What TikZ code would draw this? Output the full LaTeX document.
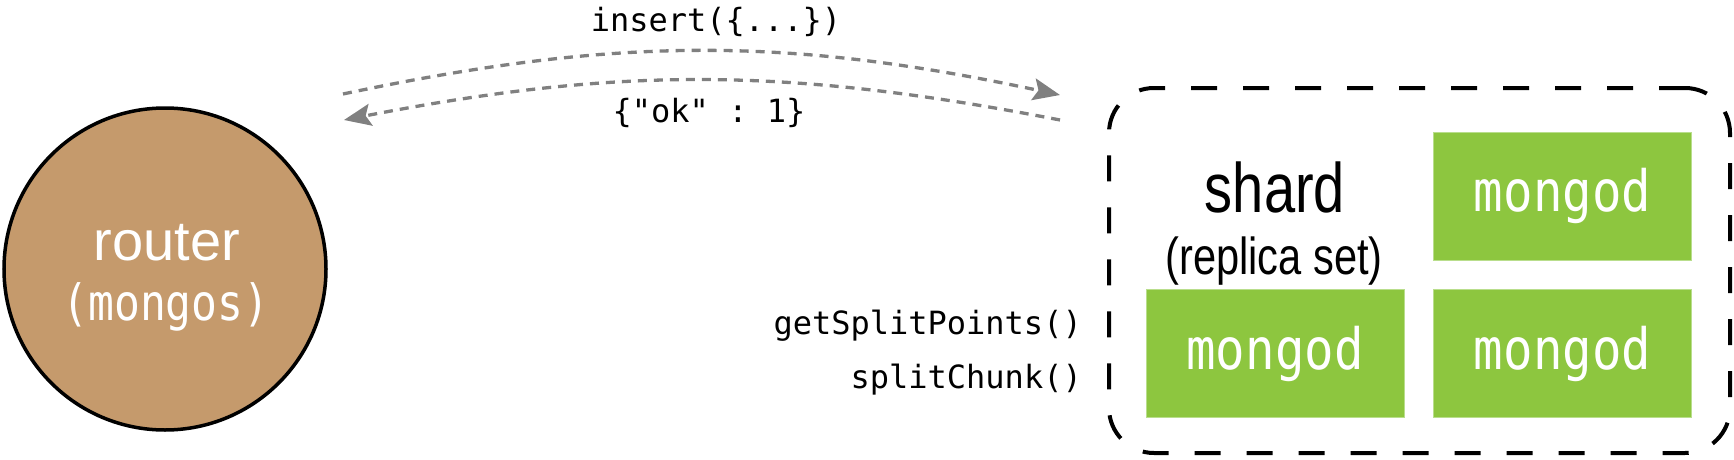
\documentclass[tikz,border=0pt]{standalone}
\usepackage{fontspec}
\setmainfont{Liberation Sans}
\setmonofont{DejaVu Sans Mono}
\newfontfamily\narrowsans[FakeStretch=0.8]{Liberation Sans}
\newfontfamily\narrowmono[FakeStretch=0.86]{DejaVu Sans Mono}
\usetikzlibrary{arrows.meta}

\definecolor{routerbrown}{RGB}{197,154,108}
\definecolor{mongodgreen}{RGB}{141,198,63}
\definecolor{mongodedge}{RGB}{185,222,140}
\definecolor{msggray}{RGB}{128,128,128}

\tikzset{
    router/.style={circle, draw=black, line width=3.5pt, fill=routerbrown, minimum size=322pt, inner sep=0pt},
    shardbox/.style={draw=black, line width=4pt, dash pattern=on 26pt off 26pt, rounded corners=45pt,
        minimum width=621pt, minimum height=365pt, inner sep=0pt},
    mongod/.style={fill=mongodgreen, draw=mongodedge, line width=1pt, minimum width=258pt, minimum height=128pt,
        inner sep=0pt, text=white, font=\narrowmono\fontsize{57}{60}\selectfont},
    msg/.style={draw=msggray, line width=3.3pt, dash pattern=on 9pt off 7pt,
        -{Stealth[length=27pt,width=22pt,inset=5pt]}},
    code/.style={font=\ttfamily\fontsize{32}{38}\selectfont, inner sep=0pt}
}

\begin{document}
\begin{tikzpicture}[x=1pt,y=1pt]
    \useasboundingbox (0,0) rectangle (1734,459);

    % router
    \node[router] (router) at (165,190) {};
    \node[text=white, font=\fontsize{56}{60}\selectfont, anchor=base, inner sep=0pt] (routername) at (167,199) {router};
    \node[text=white, font=\narrowmono\fontsize{50}{60}\selectfont, anchor=base, inner sep=0pt] (routerproc) at (166,139) {(mongos)};

    % shard
    \node[shardbox] (shard) at (1419.5,188.5) {};
    \node[font=\narrowsans\fontsize{70}{80}\selectfont, anchor=base, inner sep=0pt] (shardname) at (1275,247) {shard};
    \node[font=\narrowsans\fontsize{52}{60}\selectfont, anchor=base, inner sep=0pt] (shardkind) at (1274,185) {(replica set)};
    \node[mongod] (primary) at (1562.5,263) {mongod};
    \node[mongod] (second) at (1275,105.5) {mongod};
    \node[mongod] (third) at (1562.5,105.5) {mongod};

    % messages
    \coordinate (insfrom) at (343,365);
    \coordinate (insto) at (1060,364);
    \coordinate (okfrom) at (1060,339);
    \coordinate (okto) at (344,339);
    \draw[msg] (insfrom) to[bend left=12] (insto);
    \draw[msg] (okfrom) to[bend right=11] (okto);
    \node[code, anchor=base] (insertlbl) at (716,427) {insert(\{...\})};
    \node[code, anchor=base] (oklbl) at (709,337) {\{"ok" : 1\}};
    \node[code, anchor=base east] (splitlbl) at (1082,125) {getSplitPoints()};
    \node[code, anchor=base east] (chunklbl) at (1082,71) {splitChunk()};
\end{tikzpicture}
\end{document}
